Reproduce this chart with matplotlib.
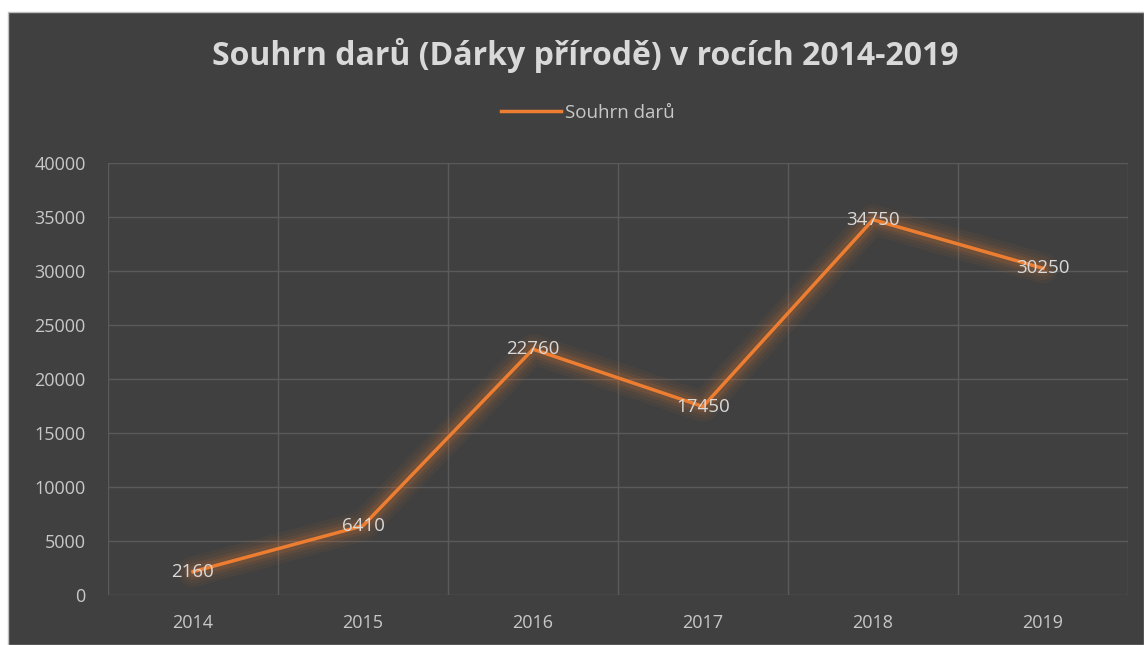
import matplotlib.pyplot as plt
from matplotlib.patches import Rectangle
from matplotlib.lines import Line2D

years = ["2014", "2015", "2016", "2017", "2018", "2019"]
values = [2160, 6410, 22760, 17450, 34750, 30250]
yticks = [0, 5000, 10000, 15000, 20000, 25000, 30000, 35000, 40000]

plt.rcParams['font.family'] = ['Open Sans', 'DejaVu Sans']

W, H = 1144, 645
bg = "#404040"
orange = "#ED7D31"
txt = "#c8c8c8"

fig = plt.figure(figsize=(W / 100, H / 100), dpi=100, facecolor="white")
# dark chart area with white margin top/left
fig.patches.append(Rectangle((8 / W, 0), 1 - 8 / W, 1 - 12 / H, transform=fig.transFigure,
                             facecolor=bg, edgecolor="#bfbfbf", linewidth=1, zorder=-10))

ax = fig.add_axes([108 / W, 1 - 595 / H, (1128 - 108) / W, (595 - 163) / H])
ax.set_facecolor(bg)
ax.patch.set_alpha(0)

x = list(range(len(years)))

# glow around the line
for lw, a in [(22, 0.05), (17, 0.06), (12, 0.08), (8, 0.12)]:
    ax.plot(x, values, color=orange, lw=lw, alpha=a, solid_capstyle="round",
            solid_joinstyle="round", zorder=2)
ax.plot(x, values, color=orange, lw=2.5, zorder=3, solid_joinstyle="round")

for xi, v in zip(x, values):
    ax.text(xi, v, str(v), ha="center", va="center", color="#d9d9d9", fontsize=13.5, zorder=4)

ax.set_xlim(-0.5, len(years) - 0.5)
ax.set_ylim(0, 40000)
ax.set_yticks(yticks)
ax.set_yticklabels([str(t) for t in yticks])
ax.set_xticks(x)
ax.set_xticklabels(years)
ax.set_xticks([i - 0.5 for i in range(len(years) + 1)], minor=True)
ax.tick_params(axis="both", which="both", length=0, colors=txt, labelsize=13)
ax.tick_params(axis="y", pad=16)
ax.tick_params(axis="x", pad=14)
ax.grid(axis="y", which="major", color="#5a5a5a", lw=1)
ax.grid(axis="x", which="minor", color="#5a5a5a", lw=1)
for s in ax.spines.values():
    s.set_visible(False)

fig.text(585 / W, 1 - 55 / H, "Souhrn darů (Dárky přírodě) v rocích 2014-2019",
         ha="center", va="center", color="#d9d9d9", fontsize=23, fontweight="bold")

handle = Line2D([], [], color=orange, lw=2.5)
fig.legend([handle], ["Souhrn darů"], loc="center", bbox_to_anchor=(588 / W, 1 - 113 / H),
           frameon=False, labelcolor=txt, fontsize=13.5, handlelength=3.2, handletextpad=0.2)

fig.savefig("out.png", dpi=100, facecolor=fig.get_facecolor())
